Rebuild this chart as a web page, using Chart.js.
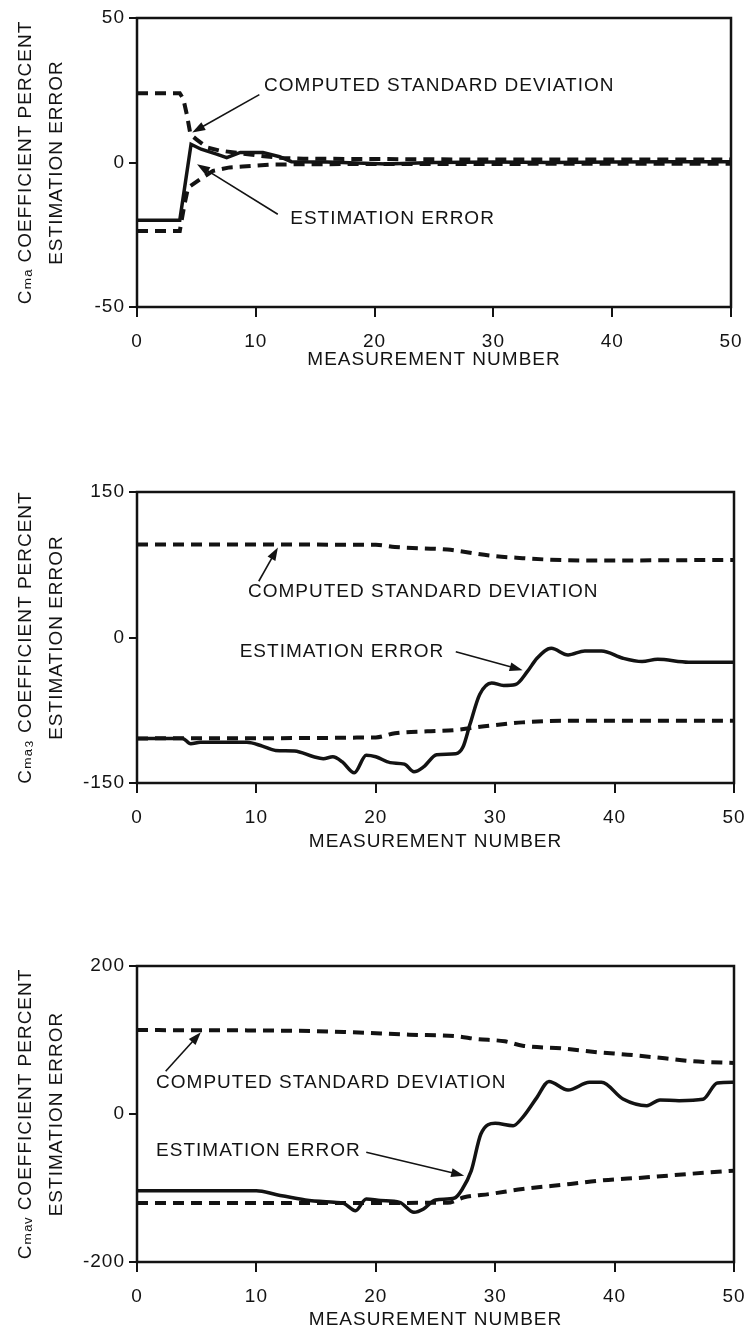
<!DOCTYPE html>
<html>
<head>
<meta charset="utf-8">
<script src="https://cdn.jsdelivr.net/npm/chart.js@4.4.0/dist/chart.umd.min.js"></script>
<style>
  html, body { margin: 0; padding: 0; background: #fff; overflow: hidden; }
  body { width: 745px; height: 1329px; position: relative; }
  canvas { position: absolute; left: 0; }
</style>
</head>
<body>
<canvas id="chart-a" width="745" height="377" style="top:0px"></canvas>
<canvas id="chart-b" width="745" height="379" style="top:474px"></canvas>
<canvas id="chart-c" width="745" height="384" style="top:948px"></canvas>
<script>
// panel 1: C m-alpha
const p1ErrX = [0, 3.6, 4.55, 5.4, 6.7, 7.55, 8.7, 10.6, 12, 13, 16, 21, 25, 30, 35, 40, 45, 50];
const p1ErrY = [-20, -20, 6.3, 4.6, 2.9, 1.7, 3.5, 3.5, 2, 0.3, 0.2, -0.5, 0, 0.2, 0, 0.2, 0.3, 0.3];
const p1UpX = [0, 3.6, 3.9, 4.2, 4.5, 5, 5.9, 7, 8.5, 10, 12, 14, 20, 30, 40, 50];
const p1UpY = [24, 24, 22, 16.5, 9.7, 8, 5.2, 4.1, 3.3, 2.5, 1.6, 1.3, 1.2, 1, 1, 1];
const p1LoX = [0, 3.6, 4.0, 4.3, 5.3, 6.4, 7.8, 8.9, 11.4, 14, 20, 30, 40, 50];
const p1LoY = [-23.7, -23.7, -14.4, -8.7, -5.8, -2.9, -1.7, -1.4, -0.7, -0.6, -0.5, -0.5, -0.4, -0.4];

// panel 2: C m-alpha-3
const p2ErrX = [0, 3.8, 4.5, 5.3, 9.2, 10.5, 11.6, 13.2, 14.8, 15.6, 16.4, 17.2, 18.2, 19.2, 20, 21.2, 22.4, 23.2, 24, 25.1, 26.7, 27.3, 27.9, 28.7, 29.7, 30.7, 31.7, 32.7, 33.5, 34.7, 36.1, 37.5, 38.9, 40.7, 42.3, 43.6, 46.2, 50];
const p2ErrY = [-104, -104, -109.6, -108, -108, -112, -116.4, -117, -123, -124.9, -123, -128.3, -139.5, -121.5, -123, -129, -130.6, -138.4, -133.4, -120.8, -119.8, -113, -89, -58.7, -46.8, -49.5, -48.5, -35, -21.4, -11.2, -18, -13.9, -13.9, -21.4, -24.8, -22.4, -25.4, -25.4];
const p2UpX = [0, 20, 21.6, 26, 27.1, 29.5, 32.3, 34.3, 38.3, 50];
const p2UpY = [96, 95.5, 93.3, 90.6, 88.9, 84.5, 81.8, 80.4, 79.4, 80];
const p2LoX = [0, 20, 21.6, 24.3, 26.7, 29.5, 32.3, 36.3, 50];
const p2LoY = [-104, -103, -98.7, -96.7, -95.3, -90.9, -87.5, -85.8, -85.8];

// panel 3: C m-alpha-V
const p3ErrX = [0, 10, 11.7, 14.1, 16.5, 17.3, 18.3, 19.2, 20.4, 22, 23.2, 24, 25, 26.6, 27.2, 28, 28.8, 30, 31.5, 32.3, 33.5, 34.5, 36.1, 37.9, 38.9, 40.7, 42.7, 43.8, 45.4, 47.4, 48.6, 50];
const p3ErrY = [-103.6, -103.6, -109, -116.2, -119.4, -120.7, -130.6, -114.9, -117, -119.4, -132.9, -128.4, -116.2, -113.5, -102.7, -76.6, -27, -12.6, -15.8, -4.5, 22.5, 44, 32.4, 42.8, 42.8, 20.3, 11.3, 18.9, 18, 19.8, 41.9, 42.8];
const p3UpX = [0, 15, 18, 22.8, 26.8, 28.4, 30.8, 32.3, 35.5, 38.7, 41.1, 44.2, 46.6, 50];
const p3UpY = [113.5, 112, 110.4, 107.2, 105, 101.4, 98.2, 92.3, 88.7, 83.3, 80.2, 75.2, 71.2, 69];
const p3LoX = [0, 26, 27.4, 29.6, 32.3, 36.3, 38.7, 42.7, 46.2, 50];
const p3LoY = [-120.3, -120, -112.6, -108, -101.4, -94.6, -90, -85.6, -81, -76.6];

const xTicks = [0, 10, 20, 30, 40, 50];

const ink = '#131313';
const family = '"Liberation Sans", "DejaVu Sans", sans-serif';

function series(xs, ys, dashed, smooth) {
    return {
        data: xs.map((x, i) => ({ x: x, y: ys[i] })),
        borderColor: ink,
        borderWidth: dashed ? 4 : 3.5,
        borderDash: dashed ? [11, 7] : [],
        pointRadius: 0,
        tension: 0,
        cubicInterpolationMode: smooth ? 'monotone' : 'default',
        fill: false
    };
}

function arrow(ctx, x1, y1, x2, y2) {
    const a = Math.atan2(y2 - y1, x2 - x1);
    const c = Math.cos(a), s = Math.sin(a);
    ctx.beginPath();
    ctx.moveTo(x1, y1);
    ctx.lineTo(x2 - 8 * c, y2 - 8 * s);
    ctx.stroke();
    ctx.beginPath();
    ctx.moveTo(x2, y2);
    ctx.lineTo(x2 - 13 * c + 4.5 * s, y2 - 13 * s - 4.5 * c);
    ctx.lineTo(x2 - 13 * c - 4.5 * s, y2 - 13 * s + 4.5 * c);
    ctx.closePath();
    ctx.fill();
}

// box round the plot + the two labelled arrows
function framePlugin(notes) {
    return {
        id: 'frame',
        beforeLayout(chart) { chart.ctx.letterSpacing = '1px'; },
        beforeDraw(chart) { chart.ctx.letterSpacing = '1px'; },
        afterDraw(chart) {
            const ctx = chart.ctx;
            const area = chart.chartArea;
            const x = chart.scales.x, y = chart.scales.y;
            ctx.save();
            ctx.strokeStyle = ink;
            ctx.fillStyle = ink;
            ctx.lineWidth = 2.5;
            ctx.strokeRect(area.left, area.top, area.right - area.left, area.bottom - area.top);
            ctx.font = '19px ' + family;
            ctx.textBaseline = 'middle';
            ctx.textAlign = 'left';
            ctx.lineWidth = 1.6;
            notes.forEach(n => {
                ctx.fillText(n.text, x.getPixelForValue(n.at[0]), y.getPixelForValue(n.at[1]));
                arrow(ctx,
                    x.getPixelForValue(n.from[0]), y.getPixelForValue(n.from[1]),
                    x.getPixelForValue(n.to[0]), y.getPixelForValue(n.to[1]));
            });
            ctx.restore();
        }
    };
}

function makeChart(id, p) {
    const ctx = document.getElementById(id).getContext('2d');
    return new Chart(ctx, {
        type: 'line',
        data: {
            datasets: [
                series(p.err[0], p.err[1], false, p.smooth),
                series(p.up[0], p.up[1], true, p.smooth),
                series(p.lo[0], p.lo[1], true, p.smooth)
            ]
        },
        options: {
            responsive: false,
            animation: false,
            devicePixelRatio: 1,
            layout: { padding: { top: 18, right: p.right, left: 0, bottom: 0 } },
            plugins: { legend: { display: false }, tooltip: { enabled: false } },
            scales: {
                x: {
                    type: 'linear',
                    min: xTicks[0],
                    max: xTicks[xTicks.length - 1],
                    afterBuildTicks: scale => { scale.ticks = xTicks.map(v => ({ value: v })); },
                    ticks: { color: ink, font: { size: 19, family: family }, padding: 13, maxRotation: 0 },
                    grid: { drawOnChartArea: false, drawTicks: true, tickLength: 10, color: ink, lineWidth: 2 },
                    border: { display: false },
                    title: {
                        display: true,
                        text: 'MEASUREMENT NUMBER',
                        color: ink,
                        font: { size: 19, family: family, lineHeight: 1 },
                        padding: { top: 0, bottom: p.titlePad }
                    },
                    afterFit(scale) {
                        scale.height = 70;
                        scale.paddingLeft = 0;
                        scale.paddingRight = 0;
                    }
                },
                y: {
                    min: p.yTicks[0],
                    max: p.yTicks[p.yTicks.length - 1],
                    afterBuildTicks: scale => { scale.ticks = p.yTicks.map(v => ({ value: v })); },
                    ticks: { color: ink, font: { size: 19, family: family }, padding: 4 },
                    grid: { drawOnChartArea: false, drawTicks: true, tickLength: 8, color: ink, lineWidth: 2 },
                    border: { display: false },
                    title: {
                        display: true,
                        text: [p.coef + ' COEFFICIENT PERCENT', 'ESTIMATION ERROR'],
                        color: ink,
                        font: { size: 19, family: family, lineHeight: 31 / 19 },
                        padding: { top: 10.5, bottom: 0 }
                    },
                    afterFit(scale) {
                        scale.width = 137;
                        scale.paddingTop = 0;
                        scale.paddingBottom = 0;
                    }
                }
            }
        },
        plugins: [framePlugin(p.notes)]
    });
}

makeChart('chart-a', {
    err: [p1ErrX, p1ErrY], up: [p1UpX, p1UpY], lo: [p1LoX, p1LoY],
    yTicks: [-50, 0, 50], coef: 'Cₘₐ', right: 14, titlePad: 8, smooth: false,
    notes: [
        { text: 'COMPUTED STANDARD DEVIATION', at: [10.7, 26.6], from: [10.3, 23.5], to: [4.65, 10.4] },
        { text: 'ESTIMATION ERROR', at: [12.9, -19.6], from: [11.85, -17.9], to: [5.05, -0.6] }
    ]
});

makeChart('chart-b', {
    err: [p2ErrX, p2ErrY], up: [p2UpX, p2UpY], lo: [p2LoX, p2LoY],
    yTicks: [-150, 0, 150], coef: 'Cₘₐ₃', right: 11, titlePad: 2, smooth: true,
    notes: [
        { text: 'COMPUTED STANDARD DEVIATION', at: [9.3, 47], from: [10.2, 58], to: [11.8, 92.8] },
        { text: 'ESTIMATION ERROR', at: [8.6, -14.7], from: [26.7, -14.7], to: [32.3, -33.7] }
    ]
});

makeChart('chart-c', {
    err: [p3ErrX, p3ErrY], up: [p3UpX, p3UpY], lo: [p3LoX, p3LoY],
    yTicks: [-200, 0, 200], coef: 'Cₘₐᵥ', right: 11, titlePad: 3, smooth: true,
    notes: [
        { text: 'COMPUTED STANDARD DEVIATION', at: [1.6, 41.9], from: [2.4, 57.7], to: [5.35, 110.4] },
        { text: 'ESTIMATION ERROR', at: [1.6, -49.5], from: [19.2, -51.8], to: [27.4, -83.3] }
    ]
});
</script>
</body>
</html>
